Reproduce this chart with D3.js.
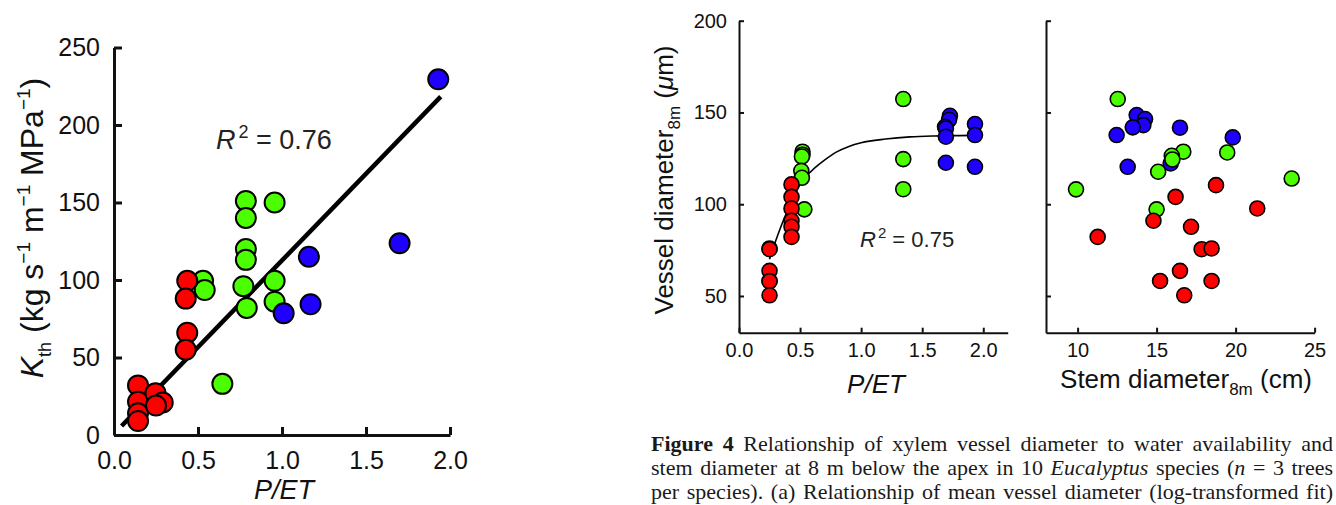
<!DOCTYPE html>
<html>
<head>
<meta charset="utf-8">
<script src="https://d3js.org/d3.v7.min.js"></script>
<style>
  body { margin: 0; background: #fff; overflow: hidden; }
  .cap { position: absolute; left: 651px; width: 682px; font-family: "Liberation Serif", serif;
         font-size: 22px; line-height: 24px; color: #1a1a1a; text-align: justify; text-align-last: justify;
         white-space: nowrap; }
</style>
</head>
<body>
<script>
// ---- panel A: K_th vs P/ET ----
const kRedX   = [0.436, 0.427, 0.436, 0.427, 0.143, 0.143, 0.143, 0.143, 0.247, 0.29, 0.25];
const kRedY   = [99.5, 88, 66, 55, 32, 21.5, 14, 9, 27, 21, 19];
const kGreenX = [0.785, 0.785, 0.956, 0.785, 0.785, 0.53, 0.54, 0.77, 0.79, 0.956, 0.956, 0.645];
const kGreenY = [151, 140, 150, 120, 113, 99.5, 93.5, 96, 82, 99.5, 86, 33];
const kBlueX  = [1.93, 1.16, 1.70, 1.01, 1.17];
const kBlueY  = [229.5, 115, 123.7, 78.5, 84.3];
const kFitX = [0.045, 1.945];
const kFitY = [5.8, 218.3];
const kXTicks = [0, 0.5, 1, 1.5, 2];
const kYTicks = [0, 50, 100, 150, 200, 250];

// ---- panel B: vessel diameter vs P/ET ----
const vRedX   = [0.43, 0.43, 0.43, 0.43, 0.43, 0.43, 0.25, 0.25, 0.25, 0.25, 0.25, 0.25];
const vRedY   = [110.8, 104, 97.7, 91, 87.7, 82.2, 75.9, 75.5, 63.7, 58.2, 58, 50.4];
const vGreenX = [1.345, 1.345, 1.345, 0.52, 0.52, 0.515, 0.51, 0.515, 0.535];
const vGreenY = [157.3, 124.6, 108.2, 128.6, 127, 126, 118.2, 114.4, 97.2];
const vBlueX  = [1.727, 1.72, 1.687, 1.694, 1.694, 1.694, 1.932, 1.932, 1.932];
const vBlueY  = [148.2, 146, 142.2, 141.3, 136.8, 122.6, 143.7, 137.7, 120.4];
const vFitX = [0.25, 0.3, 0.35, 0.4, 0.45, 0.5, 0.6, 0.7, 0.8, 0.9, 1.0, 1.2, 1.4, 1.6, 1.8, 1.93];
const vFitY = [70, 80, 89, 97, 104, 111, 118.5, 124, 128.5, 131.5, 133.5, 135.5, 136.7, 137.2, 137.4, 137.5];
const vXTicks = [0, 0.5, 1, 1.5, 2];
const vYTicks = [50, 100, 150, 200];

// ---- panel C: vessel diameter vs stem diameter ----
const sRedX   = [18.76, 16.2, 21.37, 14.8, 17.18, 11.27, 17.85, 18.48, 16.48, 15.22, 18.48, 16.75];
const sRedY   = [110.4, 104, 97.7, 91, 87.7, 82.2, 75.5, 75.9, 63.7, 58.2, 58.2, 50.4];
const sGreenX = [12.54, 16.69, 19.47, 15.96, 16, 15.1, 23.55, 9.9, 15];
const sGreenY = [157.3, 128.6, 128.2, 126.4, 124.4, 117.7, 114, 108.1, 97.2];
const sBlueX  = [13.74, 14.27, 14.16, 13.49, 12.47, 16.48, 19.82, 15.89, 13.17];
const sBlueY  = [148.6, 146.4, 143.1, 141.9, 137.7, 141.7, 136.4, 122.2, 120.4];
const sXTicks = [10, 15, 20, 25];

const RED = "#ff0000", GREEN = "#4cff00", BLUE = "#1f00ff";
const FONT = "Liberation Sans, Arial, sans-serif";

const svg = d3.select("body").append("svg")
    .attr("width", 1336).attr("height", 505)
    .style("position", "absolute").style("left", 0).style("top", 0)
    .attr("font-family", FONT);

function pts(xs, ys) { return xs.map((x, i) => [x, ys[i]]); }

function dots(g, x, y, data, color, r, sw) {
    g.selectAll(null).data(data).enter().append("circle")
        .attr("cx", d => x(d[0])).attr("cy", d => y(d[1])).attr("r", r)
        .attr("fill", color).attr("stroke", "#000").attr("stroke-width", sw);
}

function styleAxis(g, sw, fs) {
    g.select(".domain").attr("stroke", "#111").attr("stroke-width", sw);
    g.selectAll(".tick line").attr("stroke", "#111").attr("stroke-width", sw);
    g.selectAll(".tick text").attr("font-size", fs).attr("fill", "#111").attr("font-family", FONT);
}

// ================= panel A =================
const ax = d3.scaleLinear().domain([0, 2]).range([114, 450]);
const ay = d3.scaleLinear().domain([0, 250]).range([435, 47.5]);

svg.append("g").attr("transform", "translate(0,435)")
    .call(d3.axisBottom(ax).tickValues(kXTicks).tickFormat(d3.format(".1f")).tickSize(-8).tickSizeOuter(0).tickPadding(16))
    .call(g => styleAxis(g, 3, 25));
svg.append("g").attr("transform", "translate(114,0)")
    .call(d3.axisLeft(ay).tickValues(kYTicks).tickSize(-8).tickSizeOuter(0).tickPadding(14))
    .call(g => styleAxis(g, 3, 25));

svg.append("path").datum(pts(kFitX, kFitY))
    .attr("d", d3.line().x(d => ax(d[0])).y(d => ay(d[1])))
    .attr("stroke", "#000").attr("stroke-width", 4.5).attr("fill", "none");

const ga = svg.append("g");
dots(ga, ax, ay, pts(kGreenX, kGreenY), GREEN, 10, 2);
dots(ga, ax, ay, pts(kRedX, kRedY), RED, 10, 2);
dots(ga, ax, ay, pts(kBlueX, kBlueY), BLUE, 10, 2);

// R2 label A
const ra = svg.append("text").attr("x", 216).attr("y", 149).attr("font-size", 27).attr("fill", "#222");
ra.append("tspan").attr("font-style", "italic").text("R");
ra.append("tspan").attr("dx", 3).attr("dy", -11).attr("font-size", 18).text("2");
ra.append("tspan").attr("dy", 11).text(" = 0.76");

// x label A (the original clips it at the bottom edge; kept just inside)
svg.append("text").attr("x", 284).attr("y", 499).attr("text-anchor", "middle")
    .attr("font-size", 27).attr("font-style", "italic").attr("fill", "#111").text("P/ET");

// y label A
const yla = svg.append("text").attr("transform", "translate(43,228) rotate(-90)")
    .attr("text-anchor", "middle").attr("font-size", 32).attr("fill", "#111");
yla.append("tspan").attr("font-style", "italic").text("K");
yla.append("tspan").attr("font-size", 18).attr("dy", 8).text("th");
yla.append("tspan").attr("dy", -8).text(" (kg s");
yla.append("tspan").attr("font-size", 19).attr("dy", -13).text("\u22121");
yla.append("tspan").attr("dy", 13).text(" m");
yla.append("tspan").attr("font-size", 19).attr("dy", -13).text("\u22121");
yla.append("tspan").attr("dy", 13).text(" MPa");
yla.append("tspan").attr("font-size", 19).attr("dy", -13).text("\u22121");
yla.append("tspan").attr("dy", 13).text(")");

// ================= panel B =================
const bx = d3.scaleLinear().domain([0, 2.2]).range([739, 1007.7]);
const by = d3.scaleLinear().domain([30, 200]).range([332.7, 20.7]);

svg.append("g").attr("transform", "translate(0,332.7)")
    .call(d3.axisBottom(bx).tickValues(vXTicks).tickFormat(d3.format(".1f")).tickSize(-5).tickSizeOuter(0).tickPadding(10))
    .call(g => styleAxis(g, 2, 20));
svg.append("g").attr("transform", "translate(739,0)")
    .call(d3.axisLeft(by).tickValues(vYTicks).tickSize(-5).tickSizeOuter(0).tickPadding(12))
    .call(g => styleAxis(g, 2, 20));

svg.append("path").datum(pts(vFitX, vFitY))
    .attr("d", d3.line().curve(d3.curveMonotoneX).x(d => bx(d[0])).y(d => by(d[1])))
    .attr("stroke", "#000").attr("stroke-width", 1.6).attr("fill", "none");

const gb = svg.append("g");
dots(gb, bx, by, pts(vBlueX, vBlueY), BLUE, 7.5, 1.6);
dots(gb, bx, by, pts(vGreenX, vGreenY), GREEN, 7.5, 1.6);
dots(gb, bx, by, pts(vRedX, vRedY), RED, 7.5, 1.6);

const rb = svg.append("text").attr("x", 860).attr("y", 247).attr("font-size", 22).attr("fill", "#222");
rb.append("tspan").attr("font-style", "italic").text("R");
rb.append("tspan").attr("dx", 2).attr("dy", -9).attr("font-size", 15).text("2");
rb.append("tspan").attr("dy", 9).text(" = 0.75");

svg.append("text").attr("x", 876).attr("y", 393).attr("text-anchor", "middle")
    .attr("font-size", 26).attr("font-style", "italic").attr("fill", "#111").text("P/ET");

const ylb = svg.append("text").attr("transform", "translate(673,180) rotate(-90)")
    .attr("text-anchor", "middle").attr("font-size", 26).attr("fill", "#111");
ylb.append("tspan").text("Vessel diameter");
ylb.append("tspan").attr("font-size", 17).attr("dy", 7).text("8m");
ylb.append("tspan").attr("dy", -7).text(" (");
ylb.append("tspan").attr("font-style", "italic").text("\u03bc");
ylb.append("tspan").text("m)");

// ================= panel C =================
const cx = d3.scaleLinear().domain([8, 25]).range([1046, 1314.6]);
const cy = by;

svg.append("g").attr("transform", "translate(0,332.7)")
    .call(d3.axisBottom(cx).tickValues(sXTicks).tickSize(-5).tickSizeOuter(0).tickPadding(10))
    .call(g => styleAxis(g, 2, 20));
svg.append("g").attr("transform", "translate(1046,0)")
    .call(d3.axisLeft(cy).tickValues(vYTicks).tickFormat("").tickSize(-5).tickSizeOuter(0))
    .call(g => styleAxis(g, 2, 20));

const gc = svg.append("g");
dots(gc, cx, cy, pts(sBlueX, sBlueY), BLUE, 7.5, 1.6);
dots(gc, cx, cy, pts(sGreenX, sGreenY), GREEN, 7.5, 1.6);
dots(gc, cx, cy, pts(sRedX, sRedY), RED, 7.5, 1.6);

const xlc = svg.append("text").attr("x", 1186).attr("y", 388).attr("text-anchor", "middle")
    .attr("font-size", 26).attr("fill", "#111");
xlc.append("tspan").text("Stem diameter");
xlc.append("tspan").attr("font-size", 17).attr("dy", 7).text("8m");
xlc.append("tspan").attr("dy", -7).text(" (cm)");

// ================= caption =================
const capLines = [
    ["<b>Figure 4</b> Relationship of xylem vessel diameter to water availability and"],
    ["stem diameter at 8 m below the apex in 10 <i>Eucalyptus</i> species (<i>n</i> = 3 trees"],
    ["per species). (a) Relationship of mean vessel diameter (log-transformed fit)"]
];
const capBase = [452, 476, 500];
d3.select("body").selectAll("div.cap").data(capLines).enter().append("div")
    .attr("class", "cap")
    .style("top", (d, i) => (capBase[i] - 20) + "px")
    .html(d => d[0]);
</script>
</body>
</html>
